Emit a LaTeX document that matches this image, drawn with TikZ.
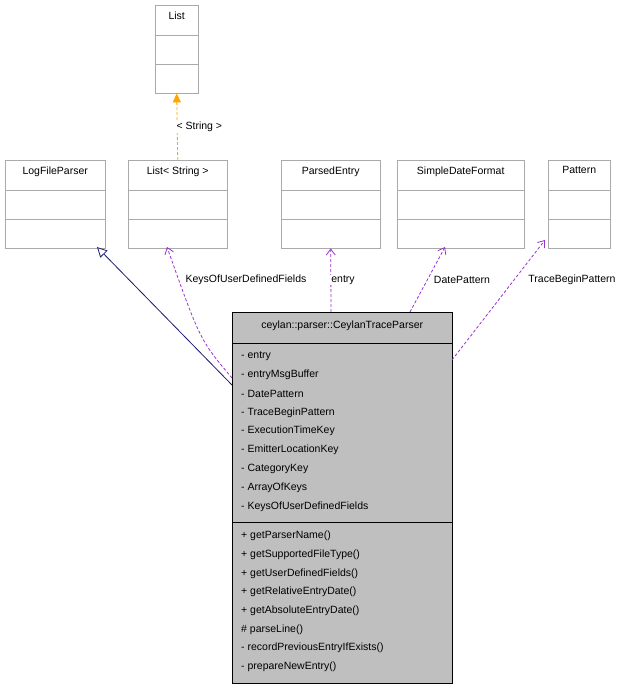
\documentclass[tikz,border=0pt]{standalone}
\usepackage{fontspec}
\setmainfont{Liberation Sans}
\usetikzlibrary{arrows.meta}
\definecolor{boxgray}{RGB}{191,191,191}
\definecolor{edgegray}{RGB}{170,170,170}
\definecolor{usepurple}{RGB}{153,51,204}
\definecolor{tmplorange}{RGB}{255,165,0}
\definecolor{inhnavy}{RGB}{25,25,112}
\newcommand{\umlclass}[5]{%
  \node[cls, minimum width=#4, minimum height=88] (#1) at (#2,#3) {};
  \node[anchor=north] (#1t) at ([yshift=-3]#1.north) {#5};
  \draw[edgegray] ([yshift=-30]#1.north west) -- ([yshift=-30]#1.north east);
  \draw[edgegray] ([yshift=-59]#1.north west) -- ([yshift=-59]#1.north east);
}
\begin{document}
\begin{tikzpicture}[x=1pt,y=-1pt,
    font=\fontsize{10.5}{12}\selectfont,
    cls/.style={rectangle, draw=edgegray, fill=white, anchor=north west, inner sep=0},
    uses/.style={densely dashed, line width=0.8, usepurple, -{Straight Barb[length=6,width=9]}},
    tmpl/.style={densely dashed, line width=0.8, tmplorange, -{Triangle[length=9,width=8]}},
    inh/.style={inhnavy, line width=0.8, -{Triangle[open,length=10,width=10,fill=white]}},
    lbl/.style={fill=white, text=black, inner sep=1}
]
\useasboundingbox (0,0) rectangle (632,688);

\umlclass{list}{155}{5}{43}{List}
\umlclass{logparser}{5}{160}{100}{LogFileParser}
\umlclass{liststr}{128}{160}{99}{List< String >}
\umlclass{parsed}{281}{160}{99}{ParsedEntry}
\umlclass{sdf}{397}{160}{127}{SimpleDateFormat}
\umlclass{pattern}{548}{160}{62}{Pattern}

% main class
\node[rectangle, draw=black, fill=boxgray, anchor=north west, minimum width=220, minimum height=371, inner sep=0] (trace) at (232,312) {};
\node[anchor=north] at ([yshift=-5]trace.north) {ceylan::parser::CeylanTraceParser};
\draw ([yshift=-31]trace.north west) -- ([yshift=-31]trace.north east);
\draw ([yshift=-210]trace.north west) -- ([yshift=-210]trace.north east);
\foreach \t [count=\i from 0] in {- entry, - entryMsgBuffer, - DatePattern, - TraceBeginPattern,
    - ExecutionTimeKey, - EmitterLocationKey, - CategoryKey, - ArrayOfKeys, - KeysOfUserDefinedFields}
  \node[anchor=west, inner sep=0] at (241,356+18.8*\i) {\t};
\foreach \t [count=\i from 0] in {+ getParserName(), + getSupportedFileType(), + getUserDefinedFields(),
    + getRelativeEntryDate(), + getAbsoluteEntryDate(), \# parseLine(),
    - recordPreviousEntryIfExists(), - prepareNewEntry()}
  \node[anchor=west, inner sep=0] at (241,536+18.7*\i) {\t};

\coordinate (tl1) at (232,385);
\coordinate (tl2) at (232,378);
\coordinate (tr1) at (452,360);

\draw[tmpl] (liststr.north) -- node[lbl, right=-2] {< String >} (list.south);
\draw[inh] (tl1) -- (97,247);
\draw[uses] (tl2) .. controls (200,340) .. (167,247);
\node[lbl] at (246,280) {KeysOfUserDefinedFields};
\draw[uses] (331,312) -- (parsed.south);
\node[lbl] at (343,280) {entry};
\draw[uses] (410,312) -- (445,247);
\node[lbl] at (462,280) {DatePattern};
\draw[uses] (tr1) -- (545,240);
\node[lbl] at (572,280) {TraceBeginPattern};
\end{tikzpicture}
\end{document}
